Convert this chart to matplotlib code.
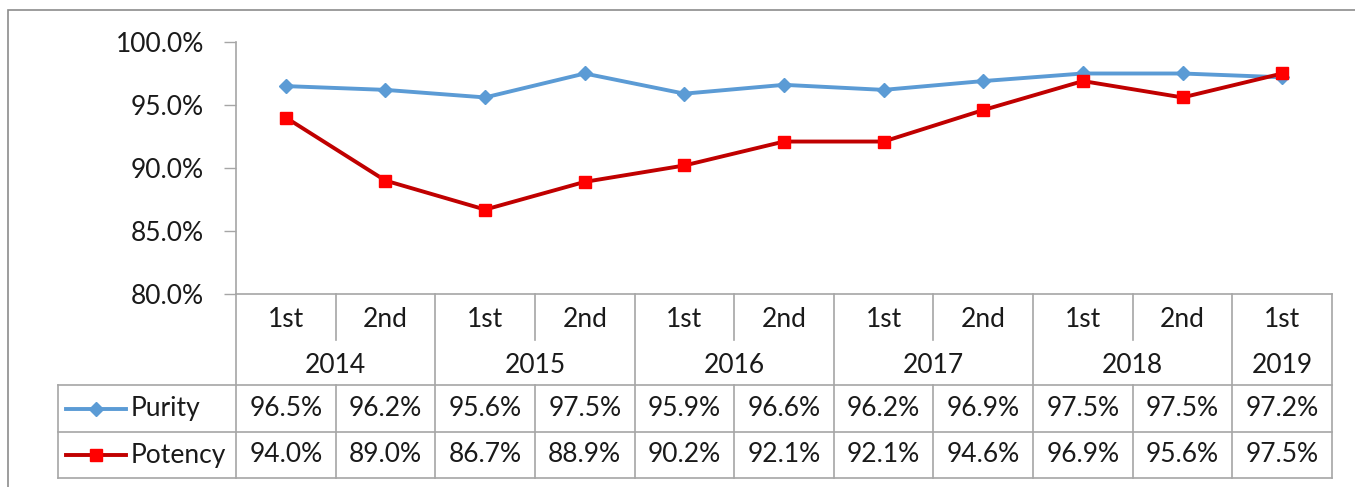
import matplotlib
matplotlib.use("Agg")
import matplotlib.pyplot as plt
from matplotlib.lines import Line2D

halves = ["1st", "2nd", "1st", "2nd", "1st", "2nd", "1st", "2nd", "1st", "2nd", "1st"]
years = ["2014", "2015", "2016", "2017", "2018", "2019"]
year_spans = [2, 2, 2, 2, 2, 1]
purity = [96.5, 96.2, 95.6, 97.5, 95.9, 96.6, 96.2, 96.9, 97.5, 97.5, 97.2]
potency = [94.0, 89.0, 86.7, 88.9, 90.2, 92.1, 92.1, 94.6, 96.9, 95.6, 97.5]
yticks = [80, 85, 90, 95, 100]

BLUE = "#5B9BD5"
RED_LINE = "#C00000"
RED_MARK = "#FF0000"
GRID = "#A6A6A6"
FONT = "Lato"
FS = 19

W, H = 1355, 487
fig = plt.figure(figsize=(W / 100, H / 100), dpi=100)

# outer chart border
fig.patches.append(plt.Rectangle((8 / W, -0.05), 1.2, (H - 10) / H + 0.05,
                                 transform=fig.transFigure, fill=False,
                                 edgecolor="#8C8C8C", lw=1.2))

ax = fig.add_axes([236 / W, (H - 294) / H, (1332 - 236) / W, 252 / H])
n = len(halves)
x = list(range(n))
ax.plot(x, purity, color=BLUE, lw=2.8, marker="D", ms=7.5, mfc=BLUE, mec=BLUE, zorder=3)
ax.plot(x, potency, color=RED_LINE, lw=2.8, marker="s", ms=8.5, mfc=RED_MARK, mec=RED_MARK, zorder=4)
ax.set_xlim(-0.5, n - 0.5)
ax.set_ylim(80, 100)
ax.set_yticks(yticks)
ax.set_yticklabels([f"{v:.1f}%" for v in yticks], fontsize=FS, family=FONT, color="#1a1a1a")
ax.tick_params(axis="y", length=9, width=1, color=GRID, pad=14)
ax.set_xticks([])
for s in ["top", "right", "bottom"]:
    ax.spines[s].set_visible(False)
ax.spines["left"].set_color(GRID)
ax.spines["left"].set_linewidth(1.2)

# table rows in axes-fraction units (below axis)
ph = 252.0
r0, r1, r2, r3, r4 = 0, -46 / ph, -91 / ph, -138 / ph, -184 / ph
tr = ax.get_xaxis_transform()
TXT = dict(transform=tr, va="center", fontsize=FS, family=FONT, color="#1a1a1a")


def hline(x0, x1, y):
    ax.add_line(Line2D([x0, x1], [y, y], transform=tr, color=GRID, lw=1.2, clip_on=False))


def vline(xv, y0, y1):
    ax.add_line(Line2D([xv, xv], [y0, y1], transform=tr, color=GRID, lw=1.2, clip_on=False))


unit = (1332 - 236) / n
left = -0.5 - (236 - 58) / unit
hline(-0.5, n - 0.5, r0)
hline(left, n - 0.5, r2)
hline(left, n - 0.5, r3)
hline(left, n - 0.5, r4)
vline(left, r2, r4)
vline(-0.5, r0, r4)
vline(n - 0.5, r0, r4)

# category and year labels
for i, h in enumerate(halves):
    ax.text(i, (r0 + r1) / 2 - 0.01, h, ha="center", **TXT)
start = 0
for yr, span in zip(years, year_spans):
    end = start + span
    if end < n:
        vline(end - 0.5, r0, r4)
    for k in range(start + 1, end):
        vline(k - 0.5, r0, r1)
        vline(k - 0.5, r2, r4)
    ax.text((start + end - 1) / 2, (r1 + r2) / 2 - 0.01, yr, ha="center", **TXT)
    start = end

# data rows with legend keys
rows = [("Purity", purity, BLUE, BLUE, "D", 7.5, (r2 + r3) / 2),
        ("Potency", potency, RED_LINE, RED_MARK, "s", 8.5, (r3 + r4) / 2)]
for name, vals, lc, mc, mk, ms, yc in rows:
    kx0 = -0.5 - (236 - 66) / unit
    kx1 = -0.5 - (236 - 126) / unit
    ax.add_line(Line2D([kx0, kx1], [yc, yc], transform=tr, color=lc, lw=2.8, clip_on=False))
    ax.add_line(Line2D([(kx0 + kx1) / 2], [yc], transform=tr, marker=mk, ms=ms,
                       mfc=mc, mec=mc, clip_on=False))
    ax.text(-0.5 - (236 - 131) / unit, yc, name, ha="left", **TXT)
    for i, v in enumerate(vals):
        ax.text(i, yc, f"{v:.1f}%", ha="center", **TXT)

fig.savefig("out.png", dpi=100)
